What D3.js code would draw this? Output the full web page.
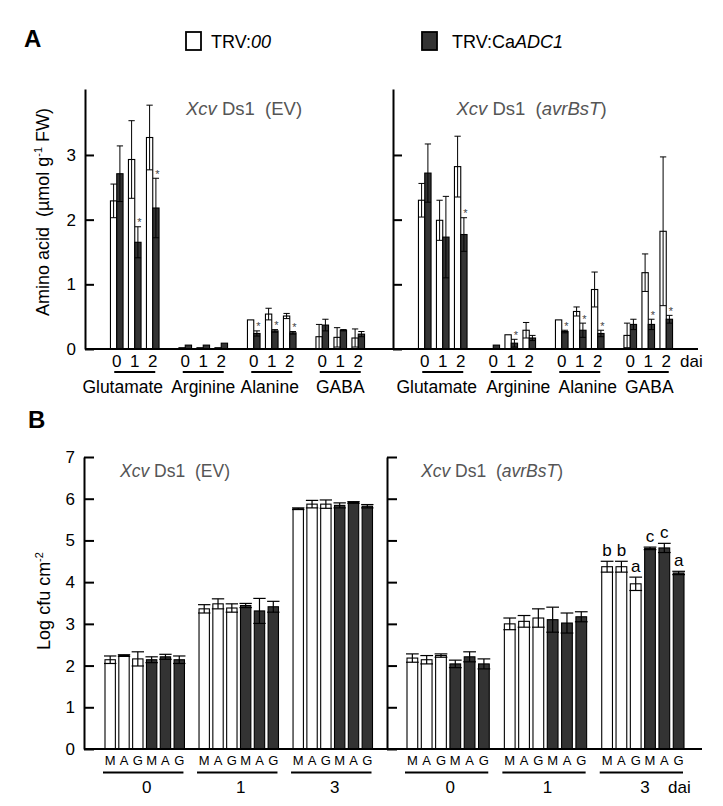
<!DOCTYPE html>
<html><head><meta charset="utf-8">
<script src="https://cdn.jsdelivr.net/npm/d3@7"></script>
<style>body{margin:0;background:#fff}svg{display:block}text{font-family:"Liberation Sans",Arial,sans-serif}</style>
</head><body><svg id="c" width="723" height="806"></svg>
<script>
// ---------- DATA ----------
const seriesNames = ["TRV:00", "TRV:CaADC1"];
const categoriesA = ["Glutamate", "Arginine", "Alanine", "GABA"];
const daysA = ["0", "1", "2"];
const yTicksA = [0, 1, 2, 3];
// values listed category by category, days 0,1,2
const evTrv00Mean = [2.29, 2.93, 3.27, 0.02, 0.02, 0.02, 0.45, 0.54, 0.51, 0.19, 0.18, 0.17];
const evTrv00Err  = [0.26, 0.60, 0.50, 0, 0, 0, 0, 0.09, 0.04, 0.19, 0.15, 0.14];
const evAdc1Mean  = [2.71, 1.65, 2.18, 0.06, 0.06, 0.09, 0.24, 0.28, 0.25, 0.37, 0.29, 0.23];
const evAdc1Err   = [0.43, 0.24, 0.46, 0, 0, 0, 0.04, 0.02, 0.02, 0.09, 0.01, 0.04];
const evAdc1Star  = [0, 1, 1, 0, 0, 0, 1, 1, 1, 0, 0, 0];
const avrTrv00Mean = [2.30, 1.99, 2.82, 0, 0.22, 0.29, 0.45, 0.58, 0.92, 0.21, 1.18, 1.82];
const avrTrv00Err  = [0.26, 0.31, 0.47, 0, 0, 0.12, 0, 0.07, 0.27, 0.19, 0.29, 1.15];
const avrAdc1Mean  = [2.72, 1.73, 1.77, 0.06, 0.09, 0.17, 0.27, 0.29, 0.24, 0.38, 0.38, 0.46];
const avrAdc1Err   = [0.45, 0.63, 0.26, 0, 0.06, 0.04, 0.02, 0.11, 0.05, 0.08, 0.08, 0.06];
const avrAdc1Star  = [0, 0, 1, 0, 1, 0, 1, 1, 1, 0, 1, 1];

const groupsB = ["0", "1", "3"];
const treatmentsB = ["M", "A", "G", "M", "A", "G"];
const seriesB = ["TRV:00", "TRV:00", "TRV:00", "TRV:CaADC1", "TRV:CaADC1", "TRV:CaADC1"];
const yTicksB = [0, 1, 2, 3, 4, 5, 6, 7];
// values listed group by group (0, 1, 3 dai), bars M A G M A G
const evBMean = [2.14, 2.24, 2.16, 2.14, 2.21, 2.14, 3.36, 3.48, 3.38, 3.44, 3.31, 3.41, 5.76, 5.87, 5.87, 5.84, 5.91, 5.82];
const evBErr  = [0.09, 0.02, 0.17, 0.07, 0.06, 0.09, 0.10, 0.12, 0.10, 0.05, 0.30, 0.13, 0.02, 0.09, 0.10, 0.06, 0.02, 0.04];
const avrBMean = [2.18, 2.14, 2.24, 2.04, 2.21, 2.04, 3.00, 3.06, 3.14, 3.10, 3.02, 3.17, 4.37, 4.37, 3.96, 4.81, 4.82, 4.22];
const avrBErr  = [0.10, 0.10, 0.04, 0.09, 0.12, 0.12, 0.14, 0.14, 0.22, 0.30, 0.24, 0.12, 0.13, 0.13, 0.16, 0.03, 0.11, 0.04];
const avrBLetters = ["", "", "", "", "", "", "", "", "", "", "", "", "b", "b", "a", "c", "c", "a"];
const evBLetters = Array(18).fill("");

// ---------- STYLE ----------
const FONT = '"Liberation Sans",Arial,sans-serif';
const DARK = "#333";
const fillOf = s => s === "TRV:00" ? "#fff" : DARK;
const svg = d3.select("#c");

// panel letters
svg.append("text").attr("x", 24).attr("y", 47).attr("font-size", 24).attr("font-weight", "bold").text("A");
svg.append("text").attr("x", 28).attr("y", 428).attr("font-size", 24).attr("font-weight", "bold").text("B");

// legend
const leg = svg.append("g");
const legX = d3.scaleOrdinal().domain(seriesNames).range([186, 422]);
seriesNames.forEach(s => {
  leg.append("rect").attr("x", legX(s)).attr("y", 32).attr("width", 15).attr("height", 18)
    .attr("fill", fillOf(s)).attr("stroke", "#000").attr("stroke-width", 1.8);
});
const l1 = leg.append("text").attr("x", 211).attr("y", 48).attr("font-size", 18);
l1.append("tspan").text("TRV:"); l1.append("tspan").attr("font-style", "italic").text("00");
const l2 = leg.append("text").attr("x", 452).attr("y", 48).attr("font-size", 18);
l2.append("tspan").text("TRV:Ca"); l2.append("tspan").attr("font-style", "italic").text("ADC1");

function title(x, y, label, size) {
  const t = svg.append("text").attr("x", x).attr("y", y).attr("text-anchor", "middle")
    .attr("font-size", size).attr("fill", "#555");
  t.append("tspan").attr("font-style", "italic").text("Xcv");
  t.append("tspan").text(" Ds1 \u00a0(");
  if (label === "EV") t.append("tspan").text("EV");
  else t.append("tspan").attr("font-style", "italic").text(label);
  t.append("tspan").text(")");
}

// ---------- PANEL A ----------
const yA = d3.scaleLinear().domain([0, 4.02]).range([349, 89]);

function panelA(x0, x1, m0, e0, m1, e1, stars, ttl, showLabels, labelShift, dai) {
  const g = svg.append("g");
  const xCat = d3.scaleBand().domain(categoriesA).range([x0 + 15.5, x0 + 15.5 + 274]);
  const xDay = d3.scaleBand().domain(daysA).range([7.25, 61.25]).paddingInner(0.3).paddingOuter(0.15);
  const xSer = d3.scaleBand().domain(seriesNames).range([0, xDay.bandwidth()]);
  const rows = [];
  categoriesA.forEach((c, ci) => daysA.forEach((d, di) => {
    const i = ci * 3 + di;
    rows.push({c, d, s: seriesNames[0], v: m0[i], e: e0[i], star: 0});
    rows.push({c, d, s: seriesNames[1], v: m1[i], e: e1[i], star: stars[i]});
  }));
  const bx = r => xCat(r.c) + xDay(r.d) + xSer(r.s);
  const bw = xSer.bandwidth();
  g.selectAll("rect.bar").data(rows).join("rect").attr("class", "bar")
    .attr("x", bx).attr("width", bw).attr("y", r => yA(r.v)).attr("height", r => yA(0) - yA(r.v))
    .attr("fill", r => fillOf(r.s)).attr("stroke", "#000").attr("stroke-width", 1.1);
  const eb = rows.filter(r => r.e > 0);
  g.selectAll("line.ev").data(eb).join("line").attr("class", "ev")
    .attr("x1", r => bx(r) + bw / 2).attr("x2", r => bx(r) + bw / 2)
    .attr("y1", r => yA(r.v + r.e)).attr("y2", r => yA(Math.max(0, r.v - r.e)))
    .attr("stroke", "#000").attr("stroke-width", 1);
  ["top", "bot"].forEach(k => {
    g.selectAll("line.cap" + k).data(eb).join("line").attr("class", "cap" + k)
      .attr("x1", r => bx(r)).attr("x2", r => bx(r) + bw)
      .attr("y1", r => yA(k === "top" ? r.v + r.e : Math.max(0, r.v - r.e)))
      .attr("y2", r => yA(k === "top" ? r.v + r.e : Math.max(0, r.v - r.e)))
      .attr("stroke", "#000").attr("stroke-width", 1);
  });
  g.selectAll("text.star").data(rows.filter(r => r.star)).join("text").attr("class", "star")
    .attr("x", r => bx(r) + bw / 2 + 1.5).attr("y", r => yA(r.v + r.e) - 0.5)
    .attr("text-anchor", "middle").attr("font-size", 11).attr("fill", "#444").text("*");
  // axis
  const ax = d3.axisLeft(yA).tickValues(yTicksA).tickSize(-9).tickSizeOuter(0).tickPadding(9)
    .tickFormat(showLabels ? d3.format("d") : () => "");
  const ag = g.append("g").attr("transform", `translate(${x0},0)`).call(ax);
  ag.select(".domain").attr("stroke-width", 2);
  ag.selectAll(".tick line").attr("stroke-width", 2);
  ag.selectAll(".tick text").attr("font-size", 17).attr("font-family", FONT).attr("fill", "#000");
  g.append("line").attr("x1", x0).attr("x2", x1).attr("y1", yA(0)).attr("y2", yA(0))
    .attr("stroke", "#000").attr("stroke-width", 2);
  // day labels + underline + category labels
  categoriesA.forEach((c, ci) => {
    daysA.forEach(d => {
      g.append("text").attr("x", xCat(c) + xDay(d) + xDay.bandwidth() / 2).attr("y", 367)
        .attr("text-anchor", "middle").attr("font-size", 17).text(d);
    });
    const cx = xCat(c) + xCat.bandwidth() / 2;
    g.append("line").attr("x1", cx - 20.5).attr("x2", cx + 20.5).attr("y1", 372).attr("y2", 372)
      .attr("stroke", "#000").attr("stroke-width", 2);
    g.append("text").attr("x", cx + labelShift[ci]).attr("y", 393).attr("text-anchor", "middle")
      .attr("font-size", 17.5).text(c);
  });
  if (dai) g.append("text").attr("x", x1 - 18).attr("y", 367).attr("font-size", 17).text("dai");
  title((x0 + x1) / 2 + ttl.dx, 115, ttl.label, 18.5);
}
panelA(85, 393, evTrv00Mean, evTrv00Err, evAdc1Mean, evAdc1Err, evAdc1Star, {label: "EV", dx: 5}, true, [-12, 0, -2, 0], false);
panelA(393, 698, avrTrv00Mean, avrTrv00Err, avrAdc1Mean, avrAdc1Err, avrAdc1Star, {label: "avrBsT", dx: -14}, false, [-6, 7, 8, 1], true);

// y title A
const ytA = svg.append("text").attr("transform", "translate(49,212) rotate(-90)").attr("text-anchor", "middle").attr("font-size", 18);
ytA.append("tspan").text("Amino acid \u00a0(\u00b5mol g");
ytA.append("tspan").attr("font-size", 11).attr("dy", -7).text("-1");
ytA.append("tspan").attr("dy", 7).text(" FW)");

// ---------- PANEL B ----------
const yB = d3.scaleLinear().domain([0, 7]).range([749, 457]);

function panelB(x0, x1, r0, r1, means, errs, letters, ttl, showLabels, dai) {
  const g = svg.append("g");
  const xG = d3.scaleBand().domain(groupsB).range([r0, r1]).paddingInner(0.155).paddingOuter(0);
  const xB = d3.scaleBand().domain(d3.range(6)).range([0, xG.bandwidth()]).paddingInner(0.25);
  const rows = [];
  groupsB.forEach((gr, gi) => treatmentsB.forEach((t, ti) => {
    const i = gi * 6 + ti;
    rows.push({gr, ti, t, s: seriesB[ti], v: means[i], e: errs[i], L: letters[i]});
  }));
  const bx = r => xG(r.gr) + xB(r.ti);
  const bw = xB.bandwidth();
  g.selectAll("rect").data(rows).join("rect")
    .attr("x", bx).attr("width", bw).attr("y", r => yB(r.v)).attr("height", r => yB(0) - yB(r.v))
    .attr("fill", r => fillOf(r.s)).attr("stroke", "#000").attr("stroke-width", 1.1);
  g.selectAll("line.ev").data(rows).join("line").attr("class", "ev")
    .attr("x1", r => bx(r) + bw / 2).attr("x2", r => bx(r) + bw / 2)
    .attr("y1", r => yB(r.v + r.e)).attr("y2", r => yB(r.v - r.e))
    .attr("stroke", "#000").attr("stroke-width", 1.2);
  ["top", "bot"].forEach(k => {
    g.selectAll("line.cap" + k).data(rows).join("line").attr("class", "cap" + k)
      .attr("x1", r => bx(r) - 1).attr("x2", r => bx(r) + bw + 1)
      .attr("y1", r => yB(k === "top" ? r.v + r.e : r.v - r.e))
      .attr("y2", r => yB(k === "top" ? r.v + r.e : r.v - r.e))
      .attr("stroke", "#000").attr("stroke-width", 1.2);
  });
  g.selectAll("text.let").data(rows.filter(r => r.L)).join("text").attr("class", "let")
    .attr("x", r => bx(r) + bw / 2).attr("y", r => yB(r.v + r.e) - 5)
    .attr("text-anchor", "middle").attr("font-size", 17).text(r => r.L);
  const ax = d3.axisLeft(yB).tickValues(yTicksB).tickSize(-10).tickSizeOuter(0).tickPadding(9)
    .tickFormat(showLabels ? d3.format("d") : () => "");
  const ag = g.append("g").attr("transform", `translate(${x0},0)`).call(ax);
  ag.select(".domain").attr("stroke-width", 2);
  ag.selectAll(".tick line").attr("stroke-width", 2);
  ag.selectAll(".tick text").attr("font-size", 17).attr("font-family", FONT).attr("fill", "#000");
  g.append("line").attr("x1", x0).attr("x2", x1).attr("y1", yB(0)).attr("y2", yB(0))
    .attr("stroke", "#000").attr("stroke-width", 2);
  g.selectAll("text.tr").data(rows).join("text").attr("class", "tr")
    .attr("x", r => bx(r) + bw / 2).attr("y", 765).attr("text-anchor", "middle")
    .attr("font-size", 13).text(r => r.t);
  groupsB.forEach(gr => {
    g.append("line").attr("x1", xG(gr) - 2).attr("x2", xG(gr) + xG.bandwidth() - 1)
      .attr("y1", 772.5).attr("y2", 772.5).attr("stroke", "#000").attr("stroke-width", 2);
    g.append("text").attr("x", xG(gr) + xG.bandwidth() / 2 + 2).attr("y", 793).attr("text-anchor", "middle")
      .attr("font-size", 17).text(gr);
  });
  if (dai) g.append("text").attr("x", 668).attr("y", 793).attr("font-size", 17).text("dai");
  title(ttl.x, 477, ttl.label, 17.5);
}
panelB(84, 387, 105, 372.5, evBMean, evBErr, evBLetters, {label: "EV", x: 175}, true, false);
panelB(387, 702, 407, 684, avrBMean, avrBErr, avrBLetters, {label: "avrBsT", x: 492}, false, true);

const ytB = svg.append("text").attr("transform", "translate(50,601) rotate(-90)").attr("text-anchor", "middle").attr("font-size", 18);
ytB.append("tspan").text("Log cfu cm");
ytB.append("tspan").attr("font-size", 11).attr("dy", -7).text("-2");
</script></body></html>
